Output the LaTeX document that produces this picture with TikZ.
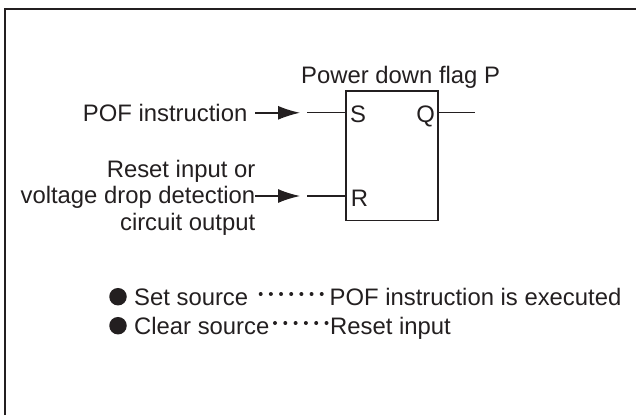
\documentclass[tikz,border=0pt]{standalone}
\usepackage{fontspec}
\setmainfont{Liberation Sans}
\usetikzlibrary{arrows.meta}
\definecolor{ink}{HTML}{231F20}
\tikzset{
 lab/.style={inner sep=0pt,font=\fontsize{23.85pt}{28pt}\selectfont,text=ink},
 wire/.style={draw=ink,line width=1.3pt},
 boxline/.style={draw=ink,line width=1.7pt},
 flow/.style={draw=ink,line width=1.4pt,-{Latex[length=22pt,width=14pt]}},
 bul/.style={circle,fill=ink,inner sep=0pt,minimum size=17.5pt},
 dotrow/.style={ink,line width=4pt,line cap=round,dash pattern=on 0pt off 10.17pt}
}
\begin{document}
\begin{tikzpicture}[x=1pt,y=-1pt]
\useasboundingbox (0,0) rectangle (636,415);
\draw[draw=ink,line width=2.8pt] (5,415) -- (5,9) -- (636,9);
\node[boxline,minimum width=92pt,minimum height=129.5pt,inner sep=0pt,anchor=north west] (ff) at (345,90) {};
\node[lab,anchor=base west] (ttl) at (301,83) {Power down flag P};
\node[lab,anchor=base west] (s) at (350,122.5) {S};
\node[lab,anchor=base east] (q) at (435,122.5) {Q};
\node[lab,anchor=base west] (r) at (350.7,206) {R};
\coordinate (sin) at (307,112.8);
\coordinate (rin) at (307,196);
\coordinate (qout) at (475,112.8);
\draw[wire] (sin) -- (ff.west |- sin);
\draw[wire] (rin) -- (ff.west |- rin);
\draw[wire] (ff.east |- qout) -- (qout);
\node[lab,anchor=base east] (pof) at (247.5,121.7) {POF instruction};
\node[lab,anchor=base east] (r1) at (255.5,177) {Reset input or};
\node[lab,anchor=base east] (r2) at (255.5,203.5) {voltage drop detection};
\node[lab,anchor=base east] (r3) at (255.5,230) {circuit output};
\coordinate (a1) at (255,112.8);
\coordinate (b1e) at (300,112.8);
\coordinate (a2) at (255,196);
\coordinate (b2e) at (300,196);
\draw[flow] (a1) -- (b1e);
\draw[flow] (a2) -- (b2e);
\node[bul] (b1) at (118,296.7) {};
\node[bul] (b2) at (118,325.7) {};
\node[lab,anchor=base west] (t1) at (134,305) {Set source};
\node[lab,anchor=base west] (t2) at (134,334) {Clear source};
\node[lab,anchor=base west] (t3) at (329.5,305) {POF instruction is executed};
\node[lab,anchor=base west] (t4) at (330,334) {Reset input};
\coordinate (d1a) at (260.7,294);
\coordinate (d1b) at (323,294);
\coordinate (d2a) at (275,323);
\coordinate (d2b) at (328,323);
\draw[dotrow] (d1a) -- (d1b);
\draw[dotrow,dash pattern=on 0pt off 10.3pt] (d2a) -- (d2b);
\end{tikzpicture}
\end{document}
